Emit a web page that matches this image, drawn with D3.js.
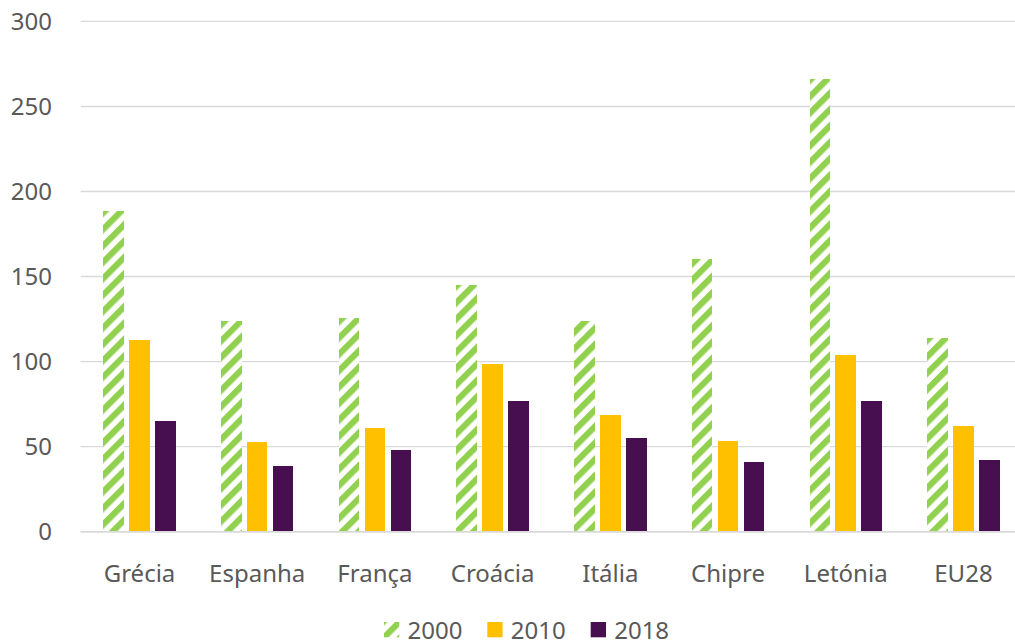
<!DOCTYPE html>
<html>
<head>
<meta charset="utf-8">
<script src="https://cdn.jsdelivr.net/npm/d3@7"></script>
<style>
  html, body { margin: 0; padding: 0; background: #fff; }
  svg { display: block; }
  text { font-family: "Noto Sans", "Open Sans", sans-serif; fill: #595959; }
</style>
</head>
<body>
<svg id="chart" width="1015" height="643"></svg>
<script>
const categories = ["Grécia", "Espanha", "França", "Croácia", "Itália", "Chipre", "Letónia", "EU28"];
const seriesNames = ["2000", "2010", "2018"];
const values2000 = [188.6, 124, 125.6, 145, 123.6, 160.4, 266, 113.8];
const values2010 = [112.8, 52.9, 61.1, 98.7, 68.7, 53.5, 103.6, 62.3];
const values2018 = [65.2, 38.4, 48.2, 77, 55, 41, 76.6, 42.3];
const yTicks = [0, 50, 100, 150, 200, 250, 300];

const seriesValues = [values2000, values2010, values2018];
const fills = ["url(#stripes)", "#ffc000", "#470f4f"];

const svg = d3.select("#chart");

// pattern
const defs = svg.append("defs");
const pat = defs.append("pattern")
  .attr("id", "stripes")
  .attr("patternUnits", "userSpaceOnUse")
  .attr("width", 11.6).attr("height", 11.6)
  .attr("patternTransform", "rotate(45)");
pat.append("rect").attr("width", 11.6).attr("height", 11.6).attr("fill", "#ffffff");
pat.append("rect").attr("width", 6.2).attr("height", 11.6).attr("fill", "#92d050");

const y = d3.scaleLinear().domain([0, 300]).range([531.7, 21.4]);
const x = d3.scaleBand().domain(categories).range([80.65, 1022.3]).padding(0);
const step = x.step();
const groupW = 72.4;
const xi = d3.scaleBand().domain(seriesNames)
  .range([(step - groupW) / 2, (step + groupW) / 2])
  .paddingInner(0.21).paddingOuter(0);

// gridlines
svg.append("g").selectAll("line").data(yTicks).join("line")
  .attr("x1", 80.65).attr("x2", 1022.3)
  .attr("y1", d => y(d)).attr("y2", d => y(d))
  .attr("stroke", "#d9d9d9").attr("stroke-width", 1.4);

// y labels
svg.append("g").selectAll("text").data(yTicks).join("text")
  .attr("x", 52).attr("y", d => y(d))
  .attr("dy", "0.36em")
  .attr("text-anchor", "end")
  .attr("font-size", 24)
  .text(d => d);

// bars
seriesNames.forEach((s, si) => {
  svg.append("g").selectAll("rect").data(categories).join("rect")
    .attr("x", (c) => x(c) + xi(s))
    .attr("width", xi.bandwidth())
    .attr("y", (c, i) => y(seriesValues[si][i]))
    .attr("height", (c, i) => y(0) - y(seriesValues[si][i]))
    .attr("fill", fills[si])
    .attr("shape-rendering", "crispEdges");
});

// baseline redraw
svg.append("line")
  .attr("x1", 80.65).attr("x2", 1022.3)
  .attr("y1", y(0)).attr("y2", y(0))
  .attr("stroke", "#d9d9d9").attr("stroke-width", 1.4);

// x labels
svg.append("g").selectAll("text").data(categories).join("text")
  .attr("x", c => x(c) + step / 2)
  .attr("y", 581.5)
  .attr("text-anchor", "middle")
  .attr("font-size", 24)
  .text(c => c);

// legend
const legendX = [384, 487.3, 590.7];
const lg = svg.append("g");
seriesNames.forEach((s, si) => {
  lg.append("rect")
    .attr("x", legendX[si]).attr("y", 622)
    .attr("width", 15.3).attr("height", 15.3)
    .attr("fill", fills[si]);
  lg.append("text")
    .attr("x", legendX[si] + 23.5).attr("y", 638.5)
    .attr("font-size", 24)
    .text(s);
});
</script>
</body>
</html>
